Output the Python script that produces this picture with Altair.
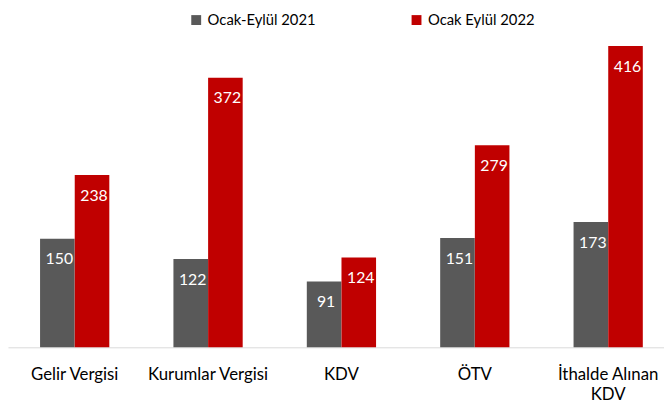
import altair as alt
import pandas as pd

categories = ["Gelir Vergisi", "Kurumlar Vergisi", "KDV", "ÖTV", "İthalde Alınan KDV"]
series = ["Ocak-Eylül 2021", "Ocak Eylül 2022"]
values_2021 = [150, 122, 91, 151, 173]
values_2022 = [238, 372, 124, 279, 416]

rows = []
for c, a, b in zip(categories, values_2021, values_2022):
    rows.append({"cat": c, "series": series[0], "value": a})
    rows.append({"cat": c, "series": series[1], "value": b})
df = pd.DataFrame(rows)

FONT = "Lato"

x = alt.X("cat:N", sort=categories, title=None,
          scale=alt.Scale(paddingInner=0.48, paddingOuter=0.24),
          axis=alt.Axis(labelAngle=0, ticks=False, domainColor="#d9d9d9", domainWidth=1,
                        labelFontSize=17, labelFont=FONT, labelColor="#000000",
                        labelPadding=20, labelLineHeight=20, labelBaseline="top",
                        labelExpr="datum.value == 'İthalde Alınan KDV' ? ['İthalde Alınan', 'KDV'] : datum.value"))
xo = alt.XOffset("series:N", sort=series, scale=alt.Scale(paddingInner=0, paddingOuter=0))
y = alt.Y("value:Q", scale=alt.Scale(domain=[0, 450], nice=False), axis=None)

color = alt.Color("series:N", sort=series,
                  scale=alt.Scale(domain=series, range=["#595959", "#C00000"]),
                  legend=alt.Legend(title=None, orient="none", legendX=183, legendY=-9,
                                    direction="horizontal", symbolType="square",
                                    symbolSize=100, symbolStrokeWidth=0, labelFontSize=15,
                                    labelFont=FONT, labelColor="#000000", columnPadding=94,
                                    symbolOffset=0, labelOffset=4))

bars = alt.Chart(df).mark_bar(size=35).encode(x=x, xOffset=xo, y=y, color=color)
labels = alt.Chart(df).mark_text(color="white", fontSize=16, font=FONT, baseline="middle",
                                 dy=21, dx=2).encode(x=x, xOffset=xo, y=y, text="value:Q")

chart = alt.layer(bars, labels).properties(
    width=675, height=330,
    autosize=alt.AutoSizeParams(type="none"),
    padding={"left": 0, "top": 11, "right": -11, "bottom": 60},
).configure_view(stroke=None)

chart.save("out.html", embed_options={"renderer": "svg", "actions": False})
